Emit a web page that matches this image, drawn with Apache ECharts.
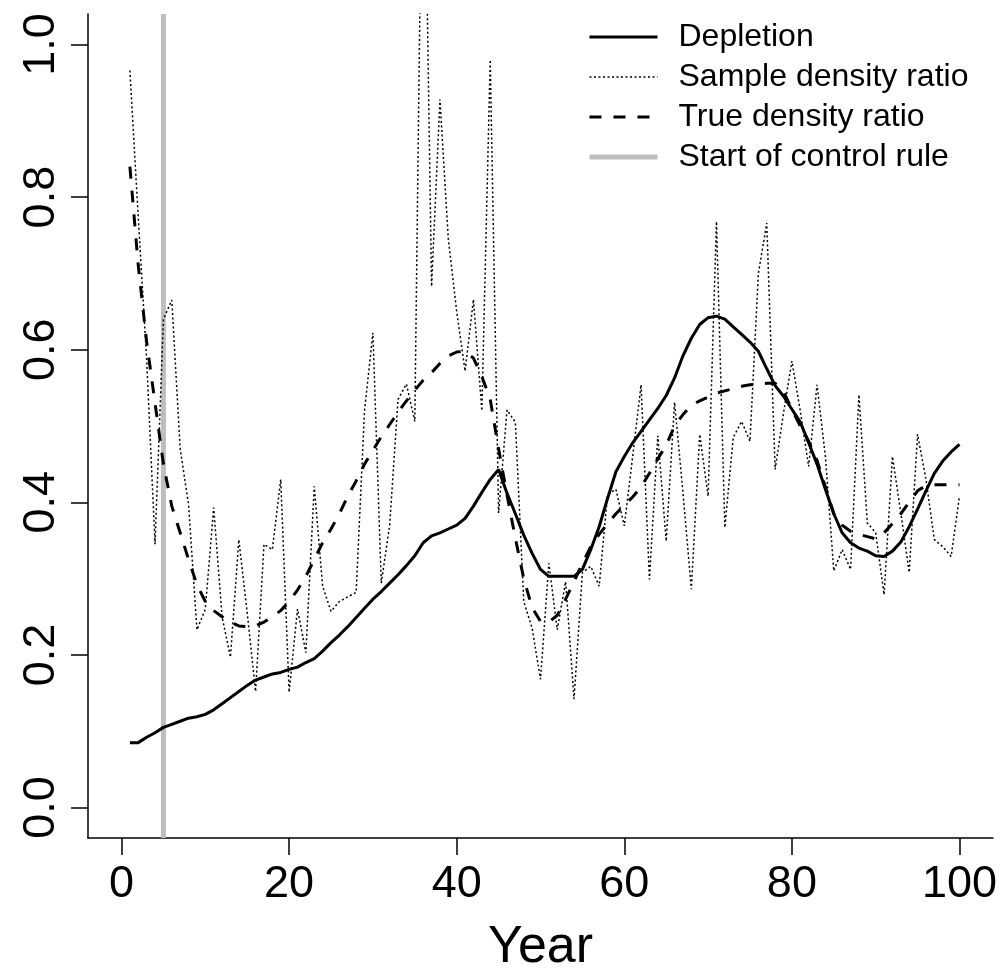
<!DOCTYPE html>
<html>
<head>
<meta charset="utf-8">
<script src="https://cdn.jsdelivr.net/npm/echarts@6/dist/echarts.min.js"></script>
<style>
html,body{margin:0;padding:0;background:#fff;}
#chart{width:1005px;height:973px;}
</style>
</head>
<body>
<div id="chart"></div>
<script>
// ---- data ----
const years = Array.from({length: 100}, (_, i) => i + 1);
const xTicks = [0, 20, 40, 60, 80, 100];
const yTicks = [0, 0.2, 0.4, 0.6, 0.8, 1.0];
const controlStartYear = 5;

const depletion = [
  0.085,0.085,0.092,0.098,0.105,0.109,0.113,0.117,0.119,0.122,
  0.128,0.136,0.144,0.152,0.160,0.167,0.171,0.175,0.177,0.181,
  0.184,0.190,0.195,0.205,0.216,0.226,0.237,0.249,0.261,0.273,
  0.283,0.294,0.305,0.317,0.330,0.347,0.356,0.360,0.365,0.370,
  0.379,0.395,0.413,0.430,0.443,0.412,0.385,0.357,0.333,0.312,
  0.303,0.303,0.303,0.303,0.312,0.338,0.368,0.405,0.440,0.460,
  0.478,0.493,0.508,0.523,0.540,0.563,0.592,0.615,0.633,0.642,
  0.644,0.640,0.630,0.620,0.610,0.598,0.575,0.553,0.539,0.522,
  0.505,0.478,0.450,0.417,0.385,0.360,0.347,0.340,0.336,0.330,
  0.329,0.336,0.348,0.368,0.391,0.415,0.438,0.454,0.466,0.476
];

const sampleRatio = [
  0.966,0.773,0.587,0.345,0.640,0.665,0.470,0.397,0.233,0.260,
  0.393,0.250,0.197,0.351,0.255,0.152,0.345,0.338,0.430,0.151,
  0.260,0.203,0.421,0.290,0.257,0.270,0.276,0.282,0.520,0.622,
  0.294,0.370,0.535,0.555,0.506,1.400,0.683,0.928,0.745,0.650,
  0.572,0.666,0.520,0.980,0.386,0.521,0.505,0.270,0.235,0.168,
  0.320,0.233,0.296,0.142,0.308,0.316,0.290,0.410,0.417,0.369,
  0.460,0.554,0.299,0.487,0.349,0.531,0.413,0.286,0.489,0.408,
  0.768,0.367,0.485,0.506,0.480,0.700,0.766,0.443,0.517,0.585,
  0.520,0.447,0.554,0.460,0.310,0.338,0.312,0.541,0.373,0.360,
  0.279,0.460,0.386,0.308,0.489,0.430,0.351,0.342,0.329,0.408
];

const trueRatio = [
  0.840,0.710,0.610,0.530,0.450,0.395,0.360,0.325,0.292,0.270,
  0.258,0.250,0.243,0.238,0.237,0.238,0.243,0.250,0.258,0.270,
  0.285,0.303,0.325,0.347,0.365,0.385,0.408,0.428,0.450,0.468,
  0.486,0.502,0.518,0.533,0.547,0.560,0.570,0.582,0.592,0.597,
  0.598,0.589,0.565,0.535,0.470,0.410,0.353,0.300,0.262,0.244,
  0.243,0.252,0.273,0.296,0.320,0.342,0.358,0.372,0.385,0.396,
  0.407,0.420,0.438,0.457,0.475,0.500,0.515,0.527,0.533,0.538,
  0.543,0.546,0.549,0.552,0.554,0.555,0.556,0.556,0.545,0.522,
  0.500,0.480,0.455,0.420,0.385,0.370,0.362,0.358,0.355,0.352,
  0.360,0.372,0.385,0.400,0.415,0.422,0.423,0.423,0.423,0.423
];

const pair = (arr) => years.map((y, i) => [y, arr[i]]);

const FONT = "'Liberation Sans', Arial, sans-serif";
const chart = echarts.init(document.getElementById('chart'), null, {renderer: 'canvas'});

chart.setOption({
  backgroundColor: '#ffffff',
  animation: false,
  grid: {left: 88, right: 12, top: 14, bottom: 135, containLabel: false, outerBoundsMode: 'none'},
  legend: {
    orient: 'vertical',
    left: 582,
    top: 16,
    itemWidth: 68,
    itemHeight: 14,
    itemGap: 8,
    itemStyle: {opacity: 0},
    textStyle: {fontFamily: FONT, fontSize: 32, color: '#000', padding: [0, 0, 0, 16]},
    data: [
      {name: 'Depletion', lineStyle: {width: 3}},
      {name: 'Sample density ratio', lineStyle: {width: 1.5}},
      {name: 'True density ratio', lineStyle: {width: 3}},
      {name: 'Start of control rule', lineStyle: {width: 5}}
    ]
  },
  xAxis: {
    type: 'value',
    min: -4,
    max: 104,
    name: 'Year',
    nameLocation: 'middle',
    nameGap: 84,
    nameTextStyle: {fontFamily: FONT, fontSize: 52, color: '#000'},
    splitLine: {show: false},
    axisLine: {show: true, onZero: false, lineStyle: {color: '#000', width: 1.5}},
    axisTick: {show: true, length: 17, customValues: xTicks, lineStyle: {color: '#000', width: 1.5}},
    axisLabel: {customValues: xTicks, margin: 24, fontFamily: FONT, fontSize: 45, color: '#000'}
  },
  yAxis: {
    type: 'value',
    min: -0.04,
    max: 1.04,
    splitLine: {show: false},
    axisLine: {show: true, onZero: false, lineStyle: {color: '#000', width: 1.5}},
    axisTick: {show: true, length: 17, customValues: yTicks, lineStyle: {color: '#000', width: 1.5}},
    axisLabel: {customValues: yTicks, rotate: 90, margin: 24, fontFamily: FONT, fontSize: 45, color: '#000',
      formatter: (v) => v.toFixed(1)}
  },
  series: [
    {
      name: 'Start of control rule', type: 'line', symbol: 'none', z: 1,
      data: [[controlStartYear, -0.04], [controlStartYear, 1.04]],
      lineStyle: {color: '#BEBEBE', width: 5}, itemStyle: {color: '#BEBEBE'}
    },
    {
      name: 'Sample density ratio', type: 'line', symbol: 'none', z: 2,
      data: pair(sampleRatio), clip: true,
      lineStyle: {color: '#000', width: 1.5, type: [2, 2.5]}, itemStyle: {color: '#000'}
    },
    {
      name: 'True density ratio', type: 'line', symbol: 'none', z: 3,
      data: pair(trueRatio), clip: true,
      lineStyle: {color: '#000', width: 3, type: [12, 12]}, itemStyle: {color: '#000'}
    },
    {
      name: 'Depletion', type: 'line', symbol: 'none', z: 4,
      data: pair(depletion), clip: true,
      lineStyle: {color: '#000', width: 3}, itemStyle: {color: '#000'}
    }
  ]
});
</script>
</body>
</html>
